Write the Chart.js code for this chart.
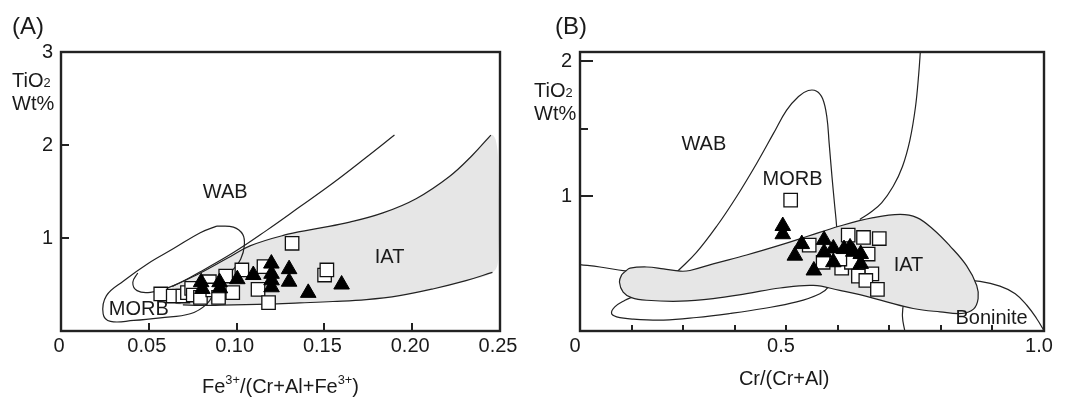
<!DOCTYPE html>
<html><head><meta charset="utf-8">
<script src="https://cdn.jsdelivr.net/npm/chart.js@4.4.1/dist/chart.umd.min.js"></script>
<style>
html,body{margin:0;padding:0;background:#fff;width:1080px;height:403px;overflow:hidden}
.wrap{position:absolute;top:0;height:403px}
#wa{left:0;width:540px}
#wb{left:510px;width:570px}
canvas{display:block}
</style></head><body>
<div class="wrap" id="wa"><canvas id="ca" width="540" height="403"></canvas></div>
<div class="wrap" id="wb"><canvas id="cb" width="570" height="403"></canvas></div>
<script>
// ---------------- Panel A : TiO2 vs Fe3+/(Cr+Al+Fe3+) ----------------
const aXTicks = [0, 0.05, 0.10, 0.15, 0.20, 0.25];
const aXLabels = ['0', '0.05', '0.10', '0.15', '0.20', '0.25'];
const aYTicks = [0, 1, 2, 3];
const aYLabels = ['', '1', '2', '3'];

const aSquares = [[0.0568,0.398],[0.0639,0.376],[0.0694,0.376],[0.0720,0.412],[0.0744,0.459],[0.0753,0.387],
  [0.0794,0.362],[0.0845,0.530],[0.0864,0.441],[0.0897,0.362],[0.0938,0.591],[0.0978,0.412],[0.1030,0.656],
  [0.1122,0.448],[0.1156,0.692],[0.1182,0.305],[0.1316,0.943],[0.1501,0.602],[0.1514,0.656]];
const aTriangles = [[0.0798,0.525],[0.0805,0.452],[0.0903,0.525],[0.0905,0.459],[0.1004,0.557],[0.1095,0.602],
  [0.1198,0.725],[0.1199,0.615],[0.1199,0.545],[0.1199,0.470],[0.1299,0.665],[0.1299,0.530],[0.1408,0.410],[0.1598,0.500]];

const aMorbLoop = [[0.0887,1.128],[0.0982,1.117],[0.1035,1.039],[0.1044,0.915],[0.1023,0.772],[0.0982,0.665],
  [0.0887,0.452],[0.0831,0.292],[0.0736,0.185],[0.0566,0.142],[0.0414,0.114],[0.0282,0.103],[0.0240,0.185],
  [0.0259,0.381],[0.0358,0.541],[0.0490,0.719],[0.0641,0.886],[0.0793,1.057],[0.0887,1.128]];
const aWabLine = [[0.0437,0.623],[0.0409,0.523],[0.0433,0.434],[0.0509,0.416],[0.0641,0.488],[0.0793,0.637],
  [0.0982,0.843],[0.1171,1.082],[0.1360,1.335],[0.1549,1.591],[0.1739,1.868],[0.1899,2.107]];
const aIatUpper = [[0.0634,0.480],[0.0793,0.623],[0.0944,0.779],[0.1076,0.915],[0.1266,1.028],[0.1455,1.100],
  [0.1644,1.171],[0.1833,1.270],[0.2022,1.423],[0.2212,1.662],[0.2344,1.893],[0.2448,2.107]];
const aIatRight = [[0.2476,2.050],[0.2490,1.770],[0.2490,0.772]];
const aIatLower = [[0.2457,0.630],[0.2306,0.541],[0.2117,0.452],[0.1928,0.381],[0.1739,0.338],[0.1549,0.317],
  [0.1360,0.302],[0.1171,0.288],[0.0982,0.281],[0.0793,0.274],[0.0694,0.281]];
const aIatLeft = [[0.0650,0.300],[0.0630,0.400],[0.0634,0.480]];

// ---------------- Panel B : TiO2 vs Cr/(Cr+Al) ----------------
const bXTicks = [0, 0.111, 0.222, 0.333, 0.444, 0.556, 0.667, 0.778, 0.889, 1.0];
const bXLabels = ['0', '', '', '', '0.5', '', '', '', '', '1.0'];
const bYTicks = [1, 1.5, 2];
const bYLabels = ['1', '', '2'];

const bSquares = [[0.454,0.971],[0.494,0.637],[0.578,0.711],[0.611,0.694],[0.645,0.686],[0.621,0.571],[0.524,0.510],
  [0.564,0.466],[0.585,0.510],[0.600,0.407],[0.629,0.424],[0.616,0.375],[0.641,0.309],[0.560,0.534]];
const bTriangles = [[0.437,0.779],[0.437,0.718],[0.478,0.645],[0.463,0.559],[0.504,0.449],[0.526,0.676],[0.526,0.583],
  [0.546,0.613],[0.546,0.510],[0.569,0.608],[0.582,0.620],[0.589,0.588],[0.605,0.571],[0.605,0.498]];

const bIatField = [[0.097,0.441],[0.108,0.466],[0.144,0.475],[0.180,0.461],[0.216,0.444],[0.237,0.449],[0.287,0.498],
  [0.359,0.564],[0.431,0.637],[0.489,0.701],[0.560,0.779],[0.632,0.841],[0.690,0.865],[0.726,0.841],[0.761,0.755],
  [0.797,0.632],[0.833,0.485],[0.855,0.338],[0.858,0.240],[0.848,0.162],[0.823,0.130],[0.776,0.142],[0.718,0.167],
  [0.661,0.216],[0.603,0.270],[0.560,0.301],[0.503,0.338],[0.431,0.319],[0.359,0.277],[0.287,0.240],[0.216,0.221],
  [0.144,0.228],[0.111,0.248],[0.093,0.289],[0.085,0.363],[0.090,0.417],[0.097,0.441]];
const bMorbLoop = [[0.212,0.449],[0.251,0.583],[0.295,0.779],[0.338,1.000],[0.381,1.245],[0.417,1.466],[0.445,1.637],
  [0.471,1.740],[0.492,1.784],[0.510,1.779],[0.523,1.723],[0.532,1.588],[0.537,1.392],[0.543,1.147],[0.549,0.926],
  [0.553,0.779],[0.555,0.632],[0.550,0.436],[0.537,0.333],[0.517,0.277],[0.467,0.216],[0.395,0.167],[0.323,0.130],
  [0.251,0.100],[0.180,0.081],[0.115,0.088],[0.079,0.105],[0.068,0.130],[0.075,0.179],[0.097,0.228],[0.115,0.257],
  [0.151,0.338],[0.187,0.412],[0.212,0.449]];
const bWabLeft = [[0.000,0.493],[0.043,0.475],[0.097,0.446],[0.130,0.440]];
const bWabRight = [[0.734,2.100],[0.730,1.907],[0.723,1.662],[0.711,1.417],[0.695,1.221],[0.675,1.074],
  [0.650,0.951],[0.625,0.877],[0.603,0.828]];
const bBoninite = [[0.700,0.000],[0.695,0.105],[0.698,0.203],[0.713,0.277],[0.740,0.326],[0.776,0.358],[0.819,0.375],
  [0.862,0.368],[0.905,0.333],[0.938,0.277],[0.963,0.191],[0.984,0.093],[0.997,0.020],[1.000,0.000]];

// ---------------- helpers ----------------
const FONT = "'Liberation Sans', Arial, Helvetica, sans-serif";
const INK = '#1a1a1a';
const pts = a => a.map(([x, y]) => ({x, y}));
const lineDs = (arr, extra) => Object.assign({data: pts(arr), showLine: true, borderColor: '#222', borderWidth: 1.2,
  pointRadius: 0, tension: 0.4, fill: false}, extra || {});
const squareDs = arr => ({data: pts(arr), pointStyle: 'rect', pointRadius: 9.5, backgroundColor: '#fff',
  borderColor: '#111', borderWidth: 1.3, showLine: false});
const triDs = arr => ({data: pts(arr), pointStyle: 'triangle', pointRadius: 9, backgroundColor: '#000',
  borderColor: '#000', borderWidth: 1, showLine: false});

const framePlugin = {
  id: 'frame',
  afterDraw(chart, args, o) {
    const {ctx, chartArea: a, scales: {x, y}} = chart;
    ctx.save();
    ctx.strokeStyle = '#222';
    ctx.lineWidth = 2;
    y.ticks.forEach((t, i) => {
      const len = o.yLen[i]; if (!len) return;
      const p = Math.round(y.getPixelForValue(t.value));
      ctx.beginPath(); ctx.moveTo(a.left, p); ctx.lineTo(a.left + len, p); ctx.stroke();
    });
    x.ticks.forEach((t, i) => {
      const len = o.xLen[i]; if (!len) return;
      const p = Math.round(x.getPixelForValue(t.value));
      ctx.beginPath(); ctx.moveTo(p, a.bottom); ctx.lineTo(p, a.bottom - len); ctx.stroke();
    });
    ctx.lineWidth = 2.4;
    ctx.strokeRect(a.left, a.top, a.right - a.left, a.bottom - a.top);
    ctx.restore();
  }
};

function drawRich(ctx, segs, px, py, size, align) {
  const widths = segs.map(s => {
    const fs = s.k ? size * 0.64 : size;
    ctx.font = fs + 'px ' + FONT;
    return ctx.measureText(s.t).width;
  });
  const total = widths.reduce((p, c) => p + c, 0);
  let x = align === 'center' ? px - total / 2 : (align === 'right' ? px - total : px);
  const base = py + size * 0.36;
  segs.forEach((s, i) => {
    const fs = s.k ? size * 0.64 : size;
    ctx.font = fs + 'px ' + FONT;
    const dy = s.k === 'sup' ? -size * 0.46 : 0;
    ctx.fillText(s.t, x, base + dy);
    x += widths[i];
  });
}

const textPlugin = {
  id: 'annot',
  afterDatasetsDraw(chart, args, o) {
    const {ctx, scales: {x, y}} = chart;
    ctx.save();
    ctx.fillStyle = INK;
    ctx.textAlign = 'left';
    ctx.textBaseline = 'alphabetic';
    o.items.forEach(it => {
      const px = it.dx !== undefined ? x.getPixelForValue(it.dx) : it.px;
      const py = it.dy !== undefined ? y.getPixelForValue(it.dy) : it.py;
      drawRich(ctx, it.segs || [{t: it.text}], px, py, it.size || 20, it.align || 'center');
    });
    ctx.restore();
  }
};

function axes(xt, xl, xmin, xmax, yt, yl, ymin, ymax, yWidth, xOff) {
  return {
    x: {type: 'linear', min: xmin, max: xmax,
      afterBuildTicks: s => { s.ticks = xt.map(v => ({value: v})); },
      afterFit: s => { s.height = 72; },
      ticks: {callback: (v, i) => xl[i], padding: 3, labelOffset: xOff, maxRotation: 0, autoSkip: false, color: INK,
        font: {size: 20, family: FONT}},
      grid: {display: false, drawTicks: false}, border: {display: false}},
    y: {type: 'linear', min: ymin, max: ymax,
      afterBuildTicks: s => { s.ticks = yt.map(v => ({value: v})); },
      afterFit: s => { s.width = yWidth; },
      ticks: {callback: (v, i) => yl[i], padding: 8, autoSkip: false, color: INK,
        font: {size: 20, family: FONT}},
      grid: {display: false, drawTicks: false}, border: {display: false}}
  };
}

const common = {
  responsive: false, animation: false, events: [],
  plugins: {legend: {display: false}, tooltip: {enabled: false}}
};

// ---------------- Chart A ----------------
new Chart(document.getElementById('ca'), {
  type: 'scatter',
  data: {datasets: [
    triDs(aTriangles),
    squareDs(aSquares),
    lineDs(aMorbLoop),
    lineDs(aWabLine),
    lineDs(aIatUpper),
    lineDs(aIatLower),
    lineDs([...aIatUpper, ...aIatRight, ...aIatLower, ...aIatLeft],
      {borderColor: 'rgba(0,0,0,0)', backgroundColor: '#e6e6e6', fill: 'shape'})
  ]},
  options: Object.assign({}, common, {
    layout: {padding: {top: 52, right: 40, left: 0, bottom: 0}, autoPadding: false},
    scales: axes(aXTicks, aXLabels, 0, 0.25, aYTicks, aYLabels, 0, 3, 61, -2),
    plugins: Object.assign({}, common.plugins, {
      frame: {xLen: [0, 8, 8, 8, 8, 0], yLen: [0, 8, 8, 0]},
      annot: {items: [
        {text: '(A)', px: 12, py: 25, size: 24, align: 'left'},
        {segs: [{t: 'TiO'}, {t: '2', k: 'sub'}], px: 12, py: 80, size: 20, align: 'left'},
        {text: 'Wt%', px: 12, py: 103, size: 20, align: 'left'},
        {segs: [{t: 'Fe'}, {t: '3+', k: 'sup'}, {t: '/(Cr+Al+Fe'}, {t: '3+', k: 'sup'}, {t: ')'}],
          dx: 0.125, py: 386, size: 20},
        {text: 'WAB', dx: 0.0935, dy: 1.51},
        {text: 'MORB', dx: 0.0443, dy: 0.245},
        {text: 'IAT', dx: 0.1871, dy: 0.808}
      ]}
    })
  }),
  plugins: [framePlugin, textPlugin]
});

// ---------------- Chart B ----------------
new Chart(document.getElementById('cb'), {
  type: 'scatter',
  data: {datasets: [
    triDs(bTriangles),
    squareDs(bSquares),
    lineDs(bIatField, {backgroundColor: '#e6e6e6', fill: 'shape'}),
    lineDs(bBoninite),
    lineDs(bMorbLoop),
    lineDs(bWabLeft),
    lineDs(bWabRight)
  ]},
  options: Object.assign({}, common, {
    layout: {padding: {top: 52, right: 36, left: 0, bottom: 0}, autoPadding: false},
    scales: axes(bXTicks, bXLabels, 0, 1, bYTicks, bYLabels, 0, 2.07, 70, -5),
    plugins: Object.assign({}, common.plugins, {
      frame: {xLen: [0, 6, 6, 6, 6, 6, 6, 6, 6, 0], yLen: [13, 8, 13]},
      annot: {items: [
        {text: '(B)', px: 45, py: 25, size: 24, align: 'left'},
        {segs: [{t: 'TiO'}, {t: '2', k: 'sub'}], px: 24, py: 90, size: 20, align: 'left'},
        {text: 'Wt%', px: 24, py: 113, size: 20, align: 'left'},
        {text: 'Cr/(Cr+Al)', dx: 0.44, py: 378, size: 20},
        {text: 'WAB', dx: 0.267, dy: 1.397},
        {text: 'MORB', dx: 0.458, dy: 1.135},
        {text: 'IAT', dx: 0.708, dy: 0.498},
        {text: 'Boninite', dx: 0.887, dy: 0.105}
      ]}
    })
  }),
  plugins: [framePlugin, textPlugin]
});
</script></body></html>
